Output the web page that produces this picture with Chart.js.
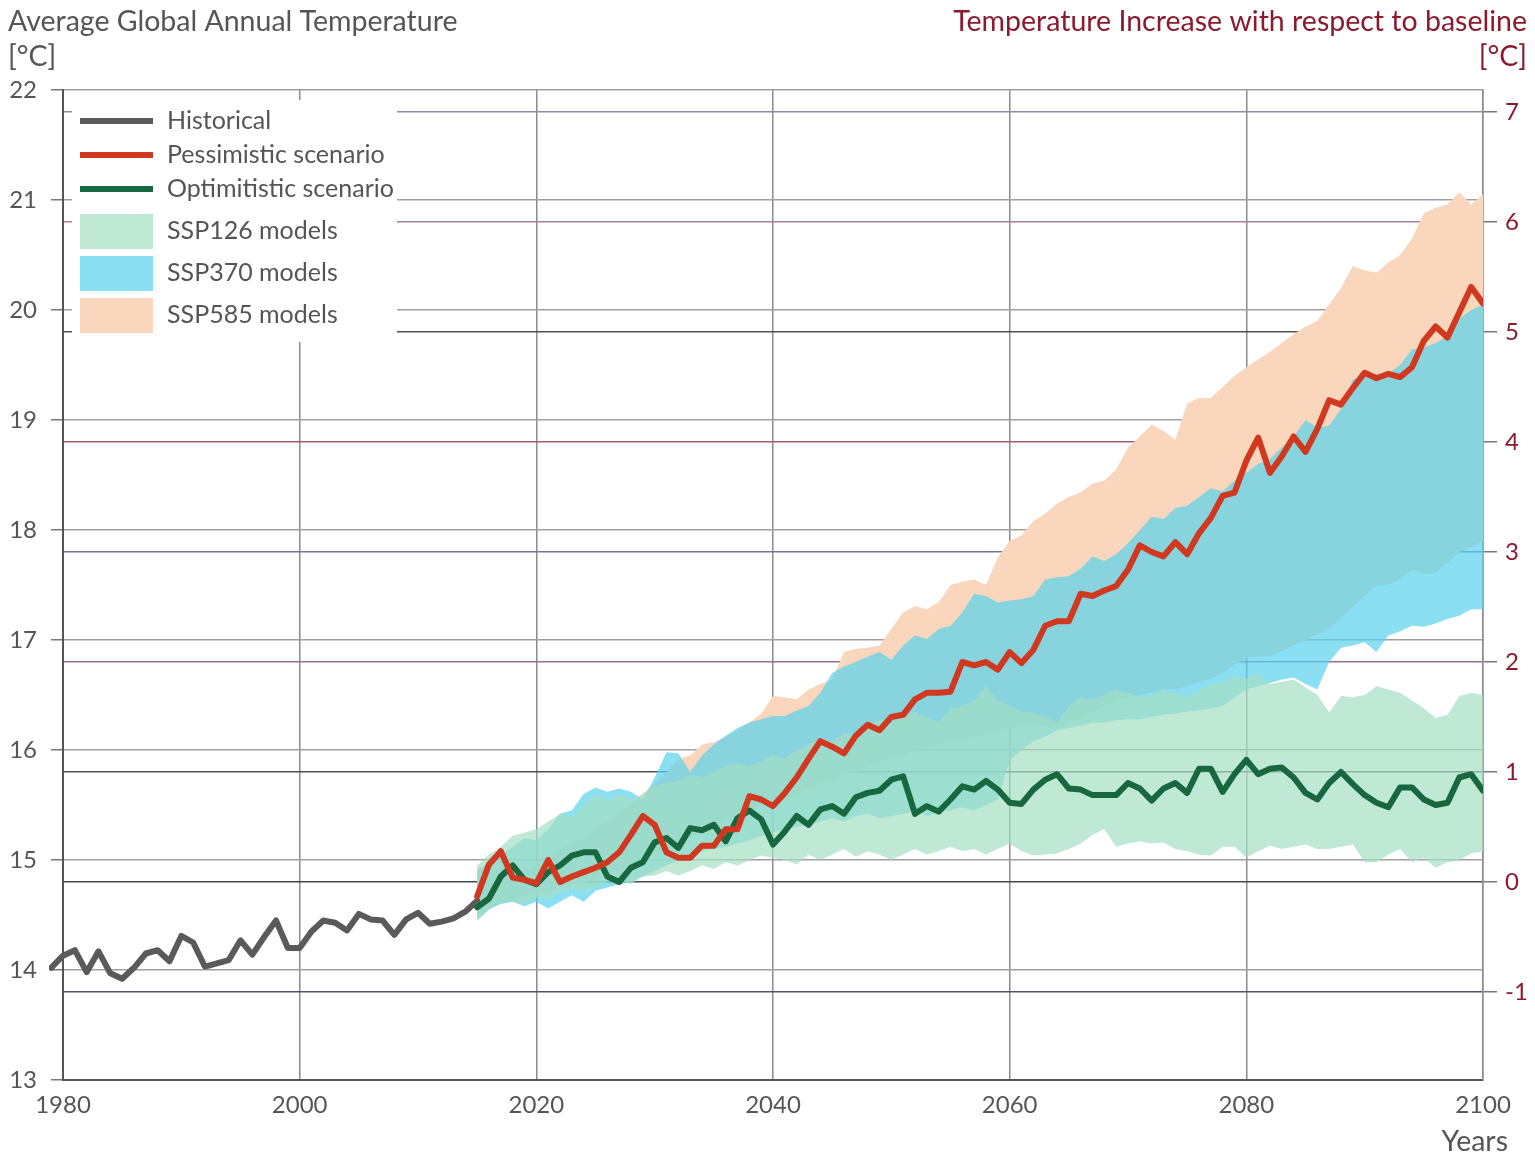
<!DOCTYPE html>
<html>
<head>
<meta charset="utf-8">
<script src="https://cdn.jsdelivr.net/npm/chart.js@4.4.1/dist/chart.umd.min.js"></script>
<style>
  html, body { margin: 0; padding: 0; background: #fff; }
  canvas { display: block; }
</style>
</head>
<body>
<canvas id="tempChart" width="1535" height="1160"></canvas>
<script>
// x ticks and y ticks
const xTicks = [1980, 2000, 2020, 2040, 2060, 2080, 2100];
const leftTicks = [13, 14, 15, 16, 17, 18, 19, 20, 21, 22];
const rightTicks = [-1, 0, 1, 2, 3, 4, 5, 6, 7];
const baseline = 14.8;

// historical record, 1979-2015
const histYears = [1979, 1980, 1981, 1982, 1983, 1984, 1985, 1986, 1987, 1988,
  1989, 1990, 1991, 1992, 1993, 1994, 1995, 1996, 1997, 1998,
  1999, 2000, 2001, 2002, 2003, 2004, 2005, 2006, 2007, 2008,
  2009, 2010, 2011, 2012, 2013, 2014, 2015];
const historical = [14.02, 14.13, 14.18, 13.98, 14.17, 13.97, 13.92, 14.02, 14.15, 14.18,
  14.08, 14.31, 14.25, 14.03, 14.06, 14.09, 14.27, 14.14, 14.30, 14.45,
  14.20, 14.20, 14.35, 14.45, 14.43, 14.36, 14.51, 14.46, 14.45, 14.32,
  14.46, 14.52, 14.42, 14.44, 14.47, 14.53, 14.63];

// projection years 2015-2100
const projYears = [];
for (let y = 2015; y <= 2100; y++) projYears.push(y);

const pessimistic = [14.67, 14.96, 15.08, 14.84, 14.82, 14.79, 15.00, 14.80, 14.85, 14.89,
  14.93, 14.98, 15.07, 15.23, 15.40, 15.32, 15.07, 15.02, 15.02, 15.13,
  15.13, 15.28, 15.28, 15.58, 15.55, 15.49, 15.61, 15.75, 15.92, 16.08,
  16.03, 15.97, 16.13, 16.23, 16.18, 16.30, 16.32, 16.46, 16.52, 16.52,
  16.53, 16.80, 16.77, 16.80, 16.73, 16.89, 16.79, 16.91, 17.13, 17.17,
  17.17, 17.42, 17.40, 17.45, 17.49, 17.64, 17.86, 17.80, 17.76, 17.89,
  17.78, 17.97, 18.11, 18.31, 18.34, 18.63, 18.84, 18.52, 18.67, 18.85,
  18.71, 18.92, 19.18, 19.14, 19.29, 19.43, 19.38, 19.42, 19.39, 19.48,
  19.72, 19.85, 19.75, 19.98, 20.21, 20.06];

const optimistic = [14.57, 14.65, 14.85, 14.95, 14.82, 14.78, 14.89, 14.95, 15.04, 15.07,
  15.07, 14.85, 14.80, 14.93, 14.98, 15.16, 15.20, 15.11, 15.29, 15.27,
  15.32, 15.17, 15.38, 15.45, 15.37, 15.14, 15.26, 15.40, 15.32, 15.46,
  15.49, 15.42, 15.57, 15.61, 15.63, 15.73, 15.76, 15.42, 15.49, 15.44,
  15.55, 15.67, 15.64, 15.72, 15.64, 15.52, 15.51, 15.64, 15.73, 15.78,
  15.65, 15.64, 15.59, 15.59, 15.59, 15.70, 15.65, 15.54, 15.65, 15.70,
  15.61, 15.83, 15.83, 15.62, 15.78, 15.91, 15.78, 15.83, 15.84, 15.75,
  15.61, 15.55, 15.70, 15.80, 15.69, 15.59, 15.52, 15.48, 15.66, 15.66,
  15.55, 15.50, 15.52, 15.75, 15.78, 15.63];

const ssp126Upper = [14.95, 15.05, 15.12, 15.22, 15.25, 15.28, 15.35, 15.42, 15.40, 15.50,
  15.60, 15.55, 15.60, 15.55, 15.60, 15.68, 15.70, 15.72, 15.78, 15.75,
  15.80, 15.85, 15.88, 15.85, 15.90, 15.95, 15.92, 16.00, 16.05, 16.10,
  16.08, 16.15, 16.12, 16.22, 16.28, 16.25, 16.30, 16.35, 16.30, 16.25,
  16.38, 16.40, 16.45, 16.58, 16.45, 16.40, 16.35, 16.34, 16.30, 16.25,
  16.40, 16.48, 16.46, 16.50, 16.55, 16.52, 16.48, 16.50, 16.55, 16.52,
  16.48, 16.55, 16.60, 16.62, 16.67, 16.65, 16.70, 16.60, 16.62, 16.64,
  16.57, 16.50, 16.34, 16.49, 16.48, 16.50, 16.58, 16.55, 16.52, 16.45,
  16.38, 16.29, 16.32, 16.49, 16.52, 16.50];
const ssp126Lower = [14.45, 14.55, 14.62, 14.62, 14.60, 14.66, 14.64, 14.70, 14.74, 14.72,
  14.75, 14.80, 14.82, 14.78, 14.85, 14.86, 14.90, 14.86, 14.90, 14.95,
  14.92, 14.98, 14.95, 15.00, 15.04, 15.02, 15.00, 14.96, 15.05, 15.00,
  15.05, 15.10, 15.03, 15.08, 15.05, 15.00, 15.05, 15.10, 15.05, 15.08,
  15.12, 15.08, 15.10, 15.05, 15.10, 15.15, 15.08, 15.04, 15.05, 15.06,
  15.10, 15.15, 15.23, 15.28, 15.12, 15.15, 15.17, 15.15, 15.16, 15.10,
  15.08, 15.05, 15.04, 15.12, 15.12, 15.02, 15.08, 15.13, 15.10, 15.12,
  15.14, 15.10, 15.10, 15.12, 15.14, 14.98, 14.98, 15.05, 15.10, 14.98,
  15.02, 14.93, 14.98, 15.00, 15.06, 15.08];

const ssp370Upper = [14.90, 14.98, 15.05, 15.12, 15.20, 15.18, 15.28, 15.42, 15.45, 15.60,
  15.66, 15.62, 15.65, 15.62, 15.55, 15.75, 15.98, 15.97, 15.80, 15.95,
  16.05, 16.13, 16.20, 16.25, 16.28, 16.31, 16.31, 16.36, 16.40, 16.52,
  16.70, 16.76, 16.80, 16.85, 16.89, 16.82, 16.95, 17.04, 17.01, 17.10,
  17.13, 17.25, 17.42, 17.40, 17.34, 17.36, 17.37, 17.40, 17.55, 17.57,
  17.58, 17.65, 17.76, 17.72, 17.78, 17.88, 18.00, 18.12, 18.10, 18.20,
  18.22, 18.30, 18.38, 18.35, 18.45, 18.52, 18.60, 18.65, 18.75, 18.85,
  19.00, 18.93, 18.95, 19.10, 19.37, 19.40, 19.42, 19.42, 19.50, 19.64,
  19.66, 19.70, 19.76, 19.92, 20.00, 20.05];
const ssp370Lower = [14.45, 14.55, 14.60, 14.62, 14.58, 14.62, 14.56, 14.62, 14.68, 14.62,
  14.72, 14.75, 14.78, 14.80, 14.85, 14.90, 14.95, 15.00, 15.05, 15.08,
  15.10, 15.12, 15.15, 15.18, 15.22, 15.25, 15.28, 15.30, 15.32, 15.35,
  15.38, 15.35, 15.40, 15.42, 15.38, 15.40, 15.42, 15.45, 15.40, 15.43,
  15.45, 15.48, 15.45, 15.50, 15.55, 15.90, 16.00, 16.08, 16.12, 16.18,
  16.20, 16.22, 16.25, 16.25, 16.27, 16.28, 16.28, 16.30, 16.32, 16.33,
  16.35, 16.36, 16.38, 16.40, 16.48, 16.55, 16.58, 16.61, 16.64, 16.66,
  16.60, 16.55, 16.80, 16.93, 16.95, 16.98, 16.89, 17.04, 17.08, 17.13,
  17.12, 17.15, 17.19, 17.22, 17.28, 17.28];

const ssp585Upper = [14.95, 14.90, 14.95, 14.92, 14.90, 14.95, 15.00, 15.10, 15.15, 15.20,
  15.30, 15.35, 15.45, 15.50, 15.60, 15.70, 15.80, 15.92, 15.95, 16.05,
  16.07, 16.12, 16.18, 16.25, 16.33, 16.49, 16.48, 16.46, 16.55, 16.60,
  16.64, 16.89, 16.92, 16.93, 16.95, 17.10, 17.25, 17.31, 17.28, 17.34,
  17.50, 17.53, 17.55, 17.50, 17.75, 17.90, 17.95, 18.08, 18.15, 18.24,
  18.30, 18.34, 18.42, 18.45, 18.55, 18.75, 18.85, 18.96, 18.90, 18.82,
  19.15, 19.20, 19.20, 19.30, 19.40, 19.48, 19.55, 19.62, 19.70, 19.78,
  19.85, 19.90, 20.05, 20.20, 20.40, 20.36, 20.34, 20.43, 20.50, 20.65,
  20.88, 20.93, 20.96, 21.07, 20.96, 21.05];
const ssp585Lower = [14.50, 14.55, 14.62, 14.62, 14.68, 14.70, 14.72, 14.75, 14.78, 14.80,
  14.82, 14.85, 14.90, 14.95, 15.00, 15.05, 15.10, 15.15, 15.20, 15.25,
  15.30, 15.35, 15.38, 15.45, 15.50, 15.50, 15.55, 15.60, 15.65, 15.70,
  15.72, 15.78, 15.80, 15.85, 15.90, 15.92, 15.95, 16.00, 16.02, 16.05,
  16.08, 16.10, 16.12, 16.15, 16.18, 16.20, 16.22, 16.25, 16.22, 16.20,
  16.25, 16.30, 16.35, 16.40, 16.45, 16.48, 16.50, 16.52, 16.55, 16.55,
  16.58, 16.62, 16.65, 16.70, 16.78, 16.83, 16.85, 16.85, 16.90, 16.95,
  17.00, 17.05, 17.10, 17.20, 17.30, 17.40, 17.49, 17.50, 17.55, 17.64,
  17.60, 17.61, 17.70, 17.80, 17.84, 17.90];

const pts = (xs, ys) => xs.map((x, i) => ({ x: x, y: ys[i] }));

const FONT = 'Lato, "Open Sans", sans-serif';
const GREY_TEXT = '#555555';
const RED_TEXT = '#8b1a2e';

const colHist = '#5a5a5a';
const colPess = '#d0381f';
const colOpt = '#17683f';
const colSsp126 = 'rgba(164, 222, 195, 0.7)';
const colSsp370 = 'rgba(88, 211, 236, 0.7)';
const colSsp585 = '#f9d6bc';

// tints of the right-hand grid lines, -1 .. 7
const rightGridColors = ['#4a5670', '#4a4a4a', '#505050', '#9a6f95', '#6d7890', '#a0606e', '#505050', '#a8809c', '#8a8aa0'];

function line(label, xs, ys, color, order) {
  return {
    label: label, data: pts(xs, ys), borderColor: color, backgroundColor: color,
    borderWidth: 6, pointRadius: 0, tension: 0, fill: false, order: order,
    borderJoinStyle: 'round', borderCapStyle: 'round'
  };
}
function band(label, ys, color, order, upper) {
  return {
    label: label, data: pts(projYears, ys), borderWidth: 0, borderColor: 'rgba(0,0,0,0)',
    backgroundColor: color, pointRadius: 0, tension: 0, order: order,
    fill: upper ? '+1' : false
  };
}

const legendItems = [
  { text: 'Historical', color: colHist, kind: 'line' },
  { text: 'Pessimistic scenario', color: colPess, kind: 'line' },
  { text: 'Optimitistic scenario', color: colOpt, kind: 'line' },
  { text: 'SSP126 models', color: colSsp126, kind: 'box' },
  { text: 'SSP370 models', color: colSsp370, kind: 'box' },
  { text: 'SSP585 models', color: colSsp585, kind: 'box' }
];

const legendBox = {
  id: 'legendBox',
  beforeDatasetsDraw(chart) {
    const ctx = chart.ctx;
    ctx.save();
    ctx.fillStyle = '#ffffff';
    ctx.fillRect(72, 100, 325, 242);
    const rowY = [121, 155, 189, 231, 273, 315];
    ctx.font = '25px ' + FONT;
    ctx.textBaseline = 'middle';
    legendItems.forEach((it, i) => {
      const y = rowY[i];
      ctx.fillStyle = it.color;
      if (it.kind === 'line') {
        ctx.fillRect(80, y - 3, 73, 6);
      } else {
        ctx.fillRect(80, y - 17, 73, 35);
      }
      ctx.fillStyle = GREY_TEXT;
      ctx.fillText(it.text, 167, y);
    });
    ctx.restore();
  }
};

const titles = {
  id: 'titles',
  afterDraw(chart) {
    const ctx = chart.ctx;
    ctx.save();
    ctx.font = '28.5px ' + FONT;
    ctx.textBaseline = 'alphabetic';
    ctx.fillStyle = GREY_TEXT;
    ctx.textAlign = 'left';
    ctx.fillText('Average Global Annual Temperature', 8, 31);
    ctx.fillText('[°C]', 8, 66);
    ctx.fillStyle = RED_TEXT;
    ctx.textAlign = 'right';
    ctx.fillText('Temperature Increase with respect to baseline', 1527, 31);
    ctx.fillText('[°C]', 1527, 66);
    ctx.fillStyle = GREY_TEXT;
    ctx.fillText('Years', 1508, 1151);
    ctx.restore();
  }
};

new Chart(document.getElementById('tempChart'), {
  type: 'line',
  data: {
    datasets: [
      line('Pessimistic scenario', projYears, pessimistic, colPess, 0),
      line('Optimitistic scenario', projYears, optimistic, colOpt, 1),
      Object.assign(line('Historical', histYears, historical, colHist, 2), { clip: { left: 14, top: 5, right: 5, bottom: 5 } }),
      band('SSP126 models', ssp126Upper, colSsp126, 3, true),
      band('SSP126 lower', ssp126Lower, colSsp126, 3, false),
      band('SSP370 models', ssp370Upper, colSsp370, 4, true),
      band('SSP370 lower', ssp370Lower, colSsp370, 4, false),
      band('SSP585 models', ssp585Upper, colSsp585, 5, true),
      band('SSP585 lower', ssp585Lower, colSsp585, 5, false)
    ]
  },
  options: {
    responsive: false,
    animation: false,
    events: [],
    layout: { padding: { top: 90, left: 0, right: 0, bottom: 0 } },
    plugins: { legend: { display: false }, tooltip: { enabled: false } },
    scales: {
      x: {
        type: 'linear', min: 1980, max: 2100,
        afterBuildTicks: s => { s.ticks = xTicks.map(v => ({ value: v })); },
        afterFit: s => { s.height = 80; },
        grid: { color: '#8c8c8c', lineWidth: 1.5, drawTicks: false },
        border: { color: '#555555', width: 2 },
        ticks: {
          color: GREY_TEXT, font: { family: FONT, size: 24 }, padding: 11, maxRotation: 0,
          callback: v => String(v)
        }
      },
      y: {
        position: 'left', min: 13, max: 22,
        afterBuildTicks: s => { s.ticks = leftTicks.map(v => ({ value: v })); },
        afterFit: s => { s.width = 63; },
        grid: { color: '#a0a0a0', lineWidth: 1.5, tickLength: 12, tickColor: '#777777' },
        border: { color: '#555555', width: 2 },
        ticks: { color: GREY_TEXT, font: { family: FONT, size: 24 }, padding: 14 }
      },
      y2: {
        position: 'right', min: 13 - baseline, max: 22 - baseline,
        afterBuildTicks: s => { s.ticks = rightTicks.map(v => ({ value: v })); },
        afterFit: s => { s.width = 52; },
        grid: {
          drawOnChartArea: true, lineWidth: 1.5, tickLength: 14,
          color: c => rightGridColors[rightTicks.indexOf(c.tick ? c.tick.value : 0)] || '#555555',
          tickColor: '#777777'
        },
        border: { color: '#8c8c8c', width: 1.5 },
        ticks: { color: RED_TEXT, font: { family: FONT, size: 24 }, padding: 8 }
      }
    }
  },
  plugins: [legendBox, titles]
});
</script>
</body>
</html>
